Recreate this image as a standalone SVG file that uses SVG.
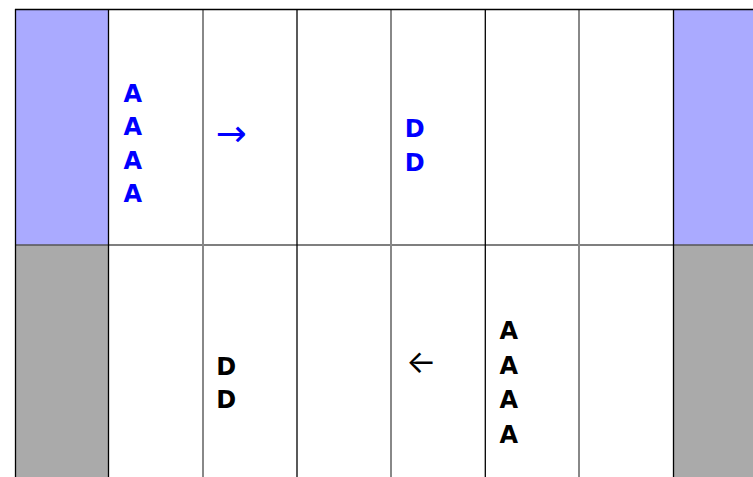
<svg xmlns="http://www.w3.org/2000/svg" width="753" height="477" viewBox="0 0 753 477">
<style>
.t{font-family:"DejaVu Sans","Liberation Sans",sans-serif;font-weight:bold;font-size:24px}
.b{fill:#0000ff}
.k{fill:#000}
.ar{font-family:Inter,Lato,sans-serif}
.ar2{font-family:"DejaVu Sans",sans-serif}
.dk{stroke:#000;stroke-width:1.3}
.gr{stroke:#888;stroke-width:2}
.row{stroke:#555;stroke-width:1.5}
</style>
<rect width="753" height="477" fill="#fff"/>
<g id="lane-top-left"><rect x="15.5" y="9.5" width="93" height="235.5" fill="#aaaaff"/></g>
<g id="lane-top-right"><rect x="673.5" y="9.5" width="80" height="235.5" fill="#aaaaff"/></g>
<g id="lane-bottom-left"><rect x="15.5" y="245" width="93" height="240" fill="#aaaaaa"/></g>
<g id="lane-bottom-right"><rect x="673.5" y="245" width="80" height="240" fill="#aaaaaa"/></g>
<g id="grid">
<line class="row" x1="15" y1="245" x2="753" y2="245"/>
<line class="gr" x1="203" y1="9.5" x2="203" y2="477"/>
<line class="gr" x1="391" y1="9.5" x2="391" y2="477"/>
<line class="gr" x1="579" y1="9.5" x2="579" y2="477"/>
<line class="dk" x1="108.5" y1="9.5" x2="108.5" y2="477"/>
<line class="dk" x1="297" y1="9.5" x2="297" y2="477"/>
<line class="dk" x1="485.3" y1="9.5" x2="485.3" y2="477"/>
<line class="dk" x1="673.5" y1="9.5" x2="673.5" y2="477"/>
<line class="dk" x1="15.5" y1="9" x2="15.5" y2="477"/>
<line class="dk" x1="15" y1="9.5" x2="753" y2="9.5"/>
</g>
<g id="cell-top-1">
<text class="t b" x="123.5" y="101.5">A</text>
<text class="t b" x="123.5" y="135">A</text>
<text class="t b" x="123.5" y="168.5">A</text>
<text class="t b" x="123.5" y="202">A</text>
</g>
<g id="cell-top-2"><text class="ar2 b" x="215.8" y="146.2" font-size="37">→</text></g>
<g id="cell-top-4">
<text class="t b" x="404.7" y="136.5">D</text>
<text class="t b" x="404.7" y="170.5">D</text>
</g>
<g id="cell-bottom-2">
<text class="t k" x="216.3" y="375">D</text>
<text class="t k" x="216.3" y="408">D</text>
</g>
<g id="cell-bottom-4"><text class="ar k" x="406" y="373.4" font-size="32">←</text></g>
<g id="cell-bottom-5">
<text class="t k" x="499.5" y="339">A</text>
<text class="t k" x="499.5" y="373.5">A</text>
<text class="t k" x="499.5" y="408">A</text>
<text class="t k" x="499.5" y="442.5">A</text>
</g>
</svg>
